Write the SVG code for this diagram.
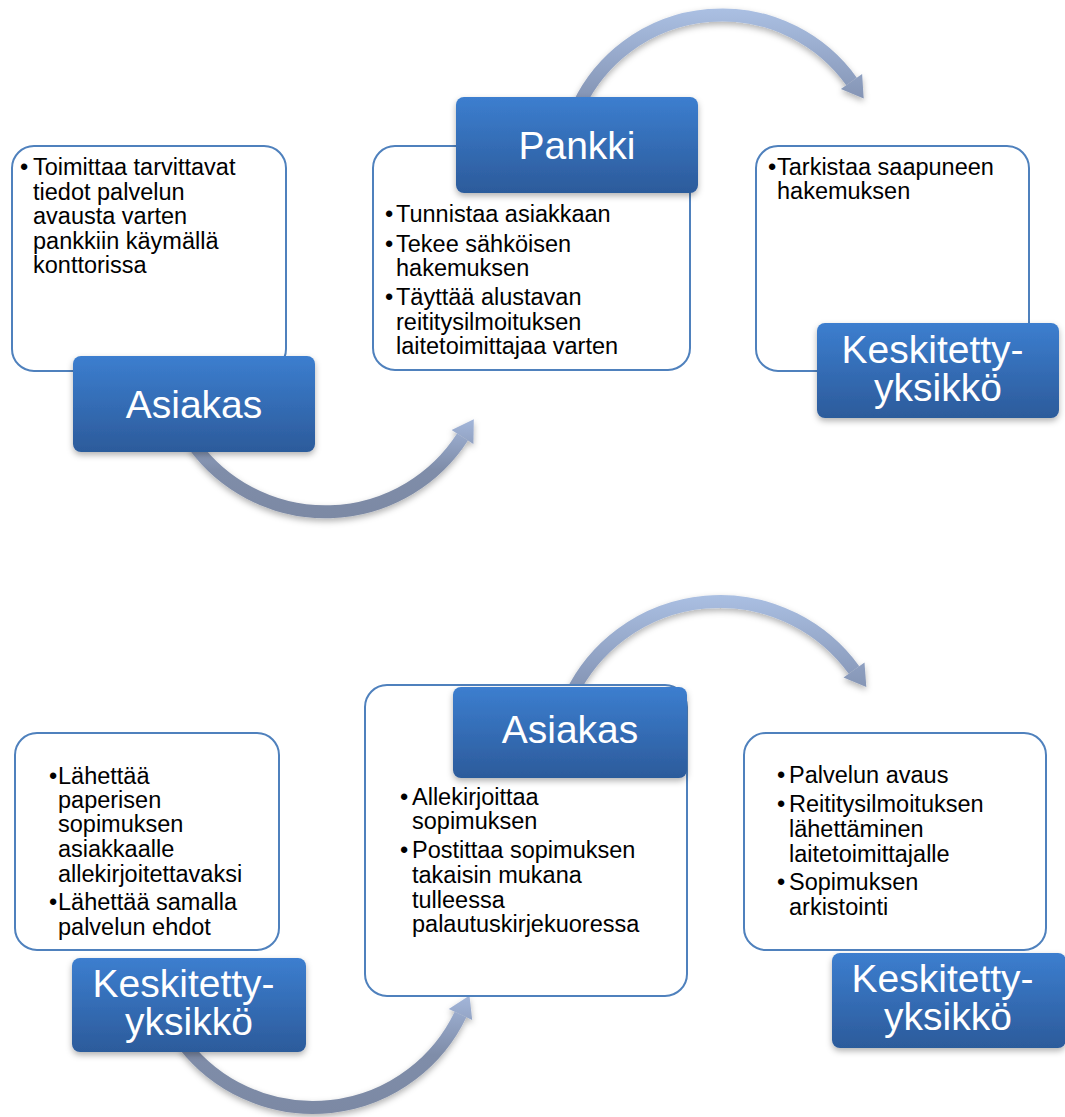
<svg xmlns="http://www.w3.org/2000/svg" width="1065" height="1117" viewBox="0 0 1065 1117">
  <defs>
    <linearGradient id="blue" x1="0" y1="0" x2="0" y2="1">
      <stop offset="0" stop-color="#3c7ecf"/>
      <stop offset="1" stop-color="#2c5b9b"/>
    </linearGradient>
    <linearGradient id="g1" gradientUnits="userSpaceOnUse" x1="0" y1="10" x2="0" y2="100">
      <stop offset="0" stop-color="#aabfe2"/>
      <stop offset="1" stop-color="#8494b4"/>
    </linearGradient>
    <linearGradient id="g2" gradientUnits="userSpaceOnUse" x1="0" y1="419" x2="0" y2="520">
      <stop offset="0" stop-color="#a3b6da"/>
      <stop offset="0.5" stop-color="#7f8da9"/>
      <stop offset="1" stop-color="#7c89a4"/>
    </linearGradient>
    <linearGradient id="g3" gradientUnits="userSpaceOnUse" x1="0" y1="595" x2="0" y2="690">
      <stop offset="0" stop-color="#aabfe2"/>
      <stop offset="1" stop-color="#8494b4"/>
    </linearGradient>
    <linearGradient id="g4" gradientUnits="userSpaceOnUse" x1="0" y1="995" x2="0" y2="1114">
      <stop offset="0" stop-color="#a3b6da"/>
      <stop offset="0.5" stop-color="#7f8da9"/>
      <stop offset="1" stop-color="#7c89a4"/>
    </linearGradient>
    <filter id="sh" x="-10%" y="-10%" width="120%" height="130%">
      <feDropShadow dx="0" dy="3" stdDeviation="3" flood-color="#000" flood-opacity="0.3"/>
    </filter>
  </defs>
  <style>
    .card { fill: #ffffff; stroke: #4f81bd; stroke-width: 2; }
    .head { fill: url(#blue); filter: url(#sh); }
    .lbl { font-family: "Liberation Sans", Arial, sans-serif; font-size: 39px; fill: #ffffff; text-anchor: middle; }
    .txt { font-family: "Liberation Sans", Arial, sans-serif; font-size: 23.5px; fill: #000000; }
    .arc { fill: none; stroke-width: 13; }
  </style>
  <rect width="1065" height="1117" fill="#ffffff"/>

  <g id="connectors" filter="url(#sh)">
    <g id="c1">
      <path class="arc" stroke="url(#g1)" d="M 578.8 105 A 159.1 159.1 0 0 1 851.5 81.5"/>
      <polygon fill="url(#g1)" points="862.1,73.9 863.7,98.6 840.9,89.1"/>
    </g>
    <g id="c2">
      <path class="arc" stroke="url(#g2)" d="M 193.9 445 A 163 163 0 0 0 462.5 437"/>
      <polygon fill="url(#g2)" points="473.4,444 473.8,419.3 451.6,430"/>
    </g>
    <g id="c3">
      <path class="arc" stroke="url(#g3)" d="M 571 695 A 165.4 165.4 0 0 1 854 670"/>
      <polygon fill="url(#g3)" points="864.5,662.4 866.3,687 843.5,677.6"/>
    </g>
    <g id="c4">
      <path class="arc" stroke="url(#g4)" d="M 184.5 1045 A 163.4 163.4 0 0 0 460.5 1014.5"/>
      <polygon fill="url(#g4)" points="472.2,1020.1 469.5,995.5 448.8,1008.9"/>
    </g>
  </g>

  <g id="node1">
    <rect class="card" x="12" y="146" width="274" height="225" rx="22"/>
    <text class="txt" x="20" y="175">•</text>
    <text class="txt">
      <tspan x="33" y="175">Toimittaa tarvittavat</tspan>
      <tspan x="33" y="200">tiedot palvelun</tspan>
      <tspan x="33" y="224">avausta varten</tspan>
      <tspan x="33" y="249">pankkiin käymällä</tspan>
      <tspan x="33" y="273">konttorissa</tspan>
    </text>
    <rect class="head" x="73" y="356" width="242" height="96" rx="8"/>
    <text class="lbl" x="194" y="418">Asiakas</text>
  </g>

  <g id="node2">
    <rect class="card" x="373" y="146" width="317" height="224" rx="22"/>
    <text class="txt">
      <tspan x="385" y="222">•</tspan>
      <tspan x="385" y="252">•</tspan>
      <tspan x="385" y="305">•</tspan>
    </text>
    <text class="txt">
      <tspan x="396" y="222">Tunnistaa asiakkaan</tspan>
      <tspan x="396" y="252">Tekee sähköisen</tspan>
      <tspan x="396" y="276">hakemuksen</tspan>
      <tspan x="396" y="305">Täyttää alustavan</tspan>
      <tspan x="396" y="330">reititysilmoituksen</tspan>
      <tspan x="396" y="354">laitetoimittajaa varten</tspan>
    </text>
    <rect class="head" x="456" y="97" width="242" height="96" rx="8"/>
    <text class="lbl" x="577" y="159">Pankki</text>
  </g>

  <g id="node3">
    <rect class="card" x="756" y="146" width="273" height="225" rx="22"/>
    <text class="txt" x="768" y="175">•</text>
    <text class="txt">
      <tspan x="777" y="175">Tarkistaa saapuneen</tspan>
      <tspan x="777" y="199">hakemuksen</tspan>
    </text>
    <rect class="head" x="817" y="323" width="242" height="95" rx="8"/>
    <text class="lbl">
      <tspan x="938" y="363">Keskitetty-</tspan>
      <tspan x="938" y="401">yksikkö</tspan>
    </text>
  </g>

  <g id="node4">
    <rect class="card" x="15" y="733" width="264" height="217" rx="22"/>
    <text class="txt">
      <tspan x="49" y="784">•</tspan>
      <tspan x="49" y="910">•</tspan>
    </text>
    <text class="txt">
      <tspan x="58" y="784">Lähettää</tspan>
      <tspan x="58" y="808">paperisen</tspan>
      <tspan x="58" y="832">sopimuksen</tspan>
      <tspan x="58" y="857">asiakkaalle</tspan>
      <tspan x="58" y="882">allekirjoitettavaksi</tspan>
      <tspan x="58" y="910">Lähettää samalla</tspan>
      <tspan x="58" y="935">palvelun ehdot</tspan>
    </text>
    <rect class="head" x="72" y="958" width="234" height="94" rx="8"/>
    <text class="lbl">
      <tspan x="189" y="997">Keskitetty-</tspan>
      <tspan x="189" y="1035">yksikkö</tspan>
    </text>
  </g>

  <g id="node5">
    <rect class="card" x="365" y="685" width="322" height="311" rx="22"/>
    <text class="txt">
      <tspan x="400" y="805">•</tspan>
      <tspan x="400" y="858">•</tspan>
    </text>
    <text class="txt">
      <tspan x="412" y="805">Allekirjoittaa</tspan>
      <tspan x="412" y="829">sopimuksen</tspan>
      <tspan x="412" y="858">Postittaa sopimuksen</tspan>
      <tspan x="412" y="883">takaisin mukana</tspan>
      <tspan x="412" y="908">tulleessa</tspan>
      <tspan x="412" y="932">palautuskirjekuoressa</tspan>
    </text>
    <rect class="head" x="453" y="687" width="234" height="91" rx="8"/>
    <text class="lbl" x="570" y="743">Asiakas</text>
  </g>

  <g id="node6">
    <rect class="card" x="744" y="733" width="302" height="217" rx="22"/>
    <text class="txt">
      <tspan x="777" y="783">•</tspan>
      <tspan x="777" y="812">•</tspan>
      <tspan x="777" y="890">•</tspan>
    </text>
    <text class="txt">
      <tspan x="789" y="783">Palvelun avaus</tspan>
      <tspan x="789" y="812">Reititysilmoituksen</tspan>
      <tspan x="789" y="837">lähettäminen</tspan>
      <tspan x="789" y="862">laitetoimittajalle</tspan>
      <tspan x="789" y="890">Sopimuksen</tspan>
      <tspan x="789" y="915">arkistointi</tspan>
    </text>
    <rect class="head" x="832" y="953" width="234" height="95" rx="8"/>
    <text class="lbl">
      <tspan x="948" y="992">Keskitetty-</tspan>
      <tspan x="948" y="1030">yksikkö</tspan>
    </text>
  </g>
</svg>
